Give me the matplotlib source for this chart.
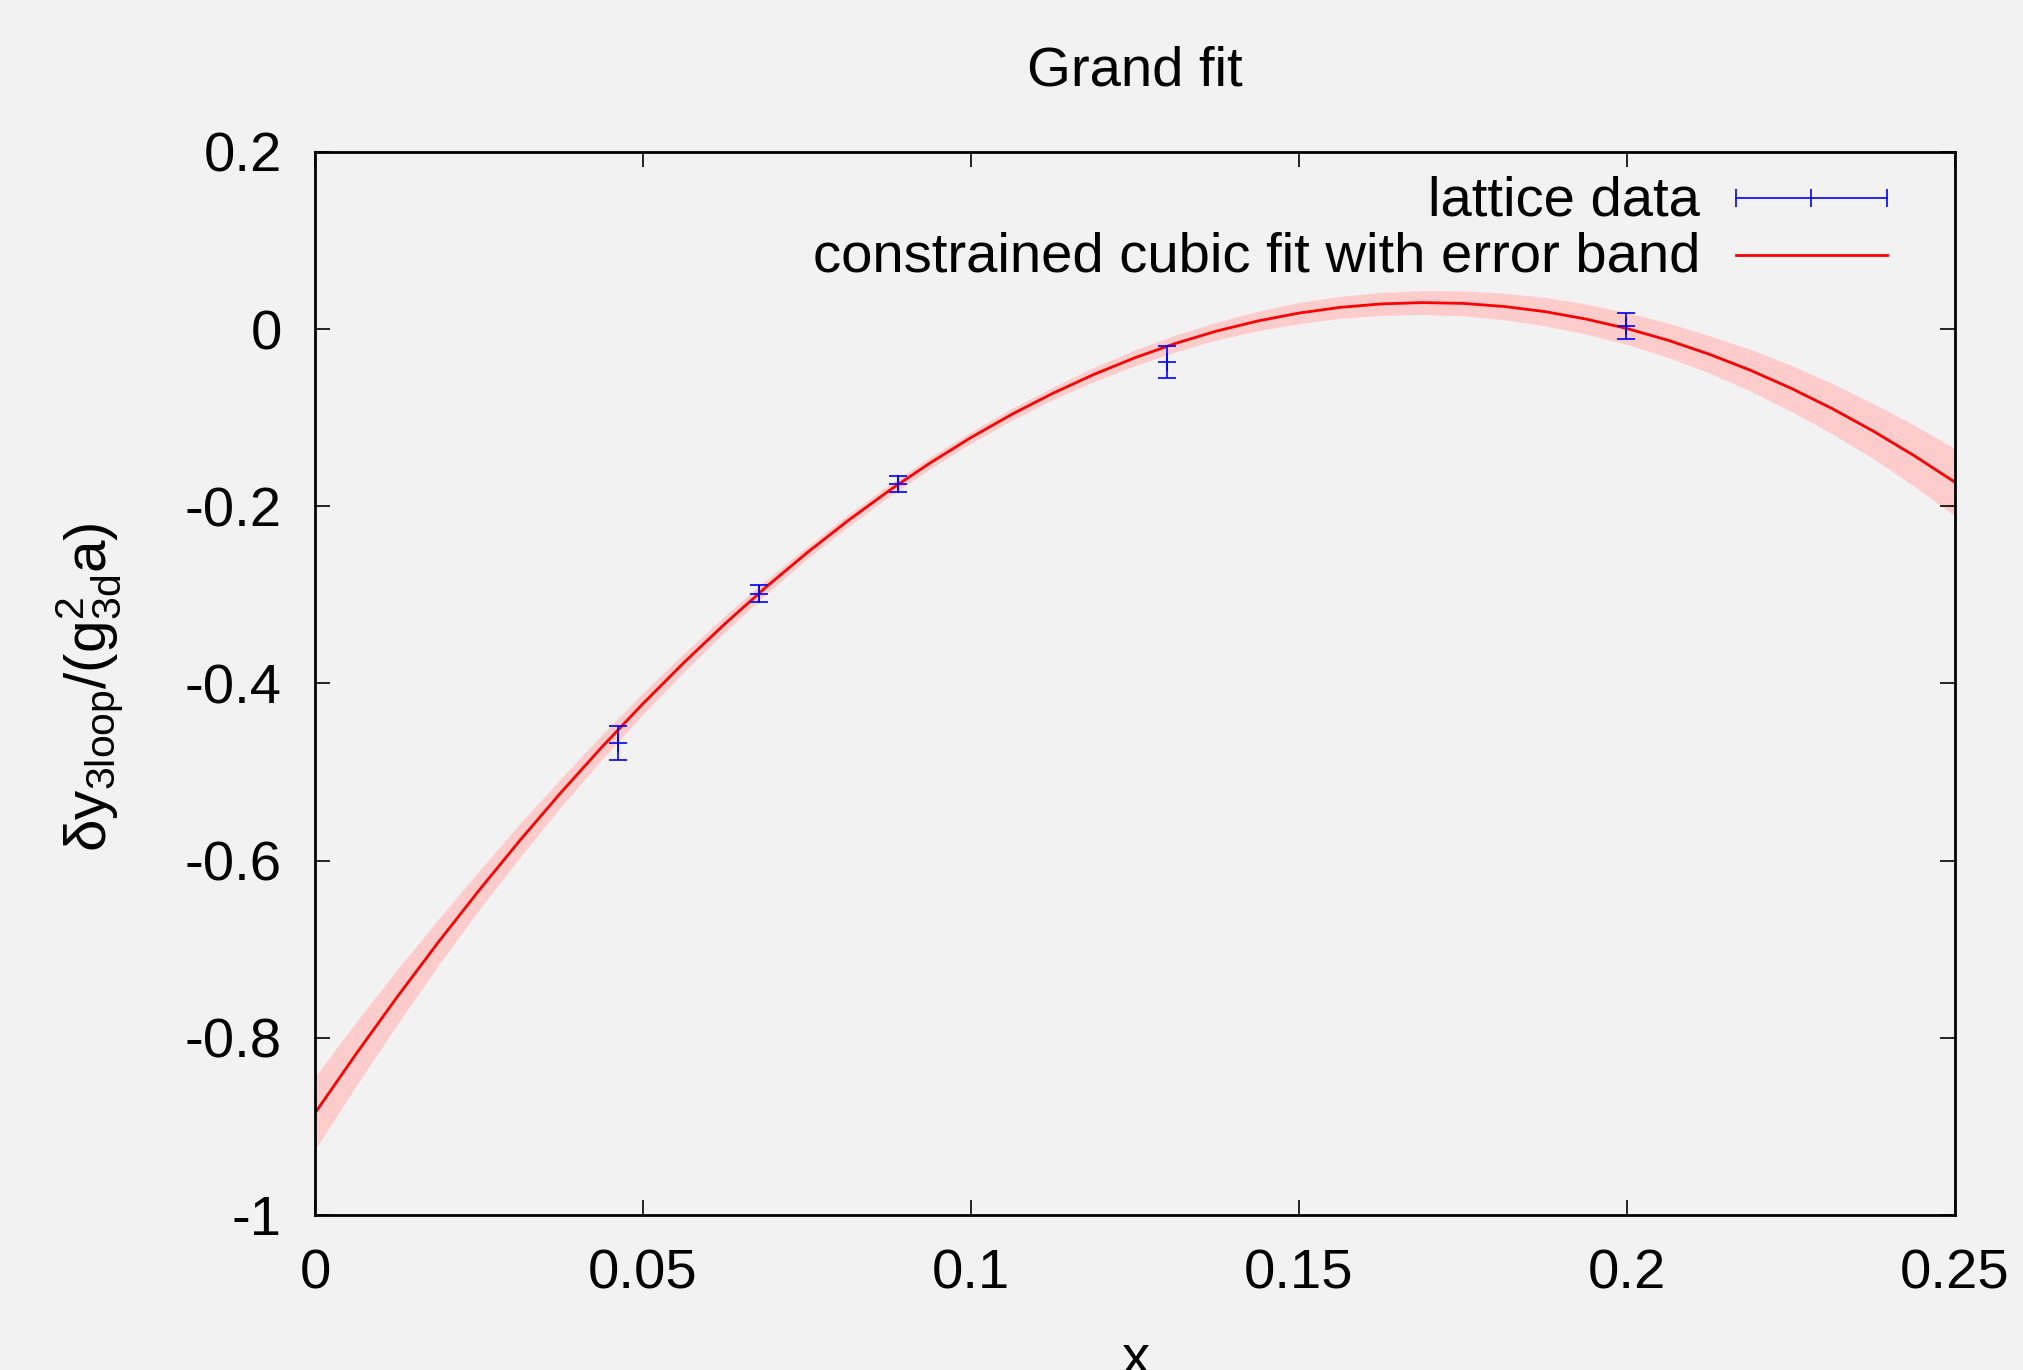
import numpy as np
import matplotlib.pyplot as plt

plt.rcParams['font.family'] = ['Liberation Sans', 'DejaVu Sans']
plt.rcParams['axes.unicode_minus'] = False
plt.rcParams['mathtext.fontset'] = 'custom'
plt.rcParams['mathtext.rm'] = 'Liberation Sans'

# lattice data points
x_data = [0.0462, 0.0677, 0.0889, 0.1299, 0.1998]
y_data = [-0.4675, -0.2987, -0.1748, -0.0375, 0.0036]
y_err = [0.019, 0.0098, 0.0087, 0.018, 0.015]

# fit curve and its error band (half-width)
x_fit = [0.0, 0.00625, 0.0125, 0.01875, 0.025, 0.03125, 0.0375, 0.04375,
         0.05, 0.05625, 0.0625, 0.06875, 0.075, 0.08125, 0.0875, 0.09375,
         0.1, 0.10625, 0.1125, 0.11875, 0.125, 0.13125, 0.1375, 0.14375,
         0.15, 0.15625, 0.1625, 0.16875, 0.175, 0.18125, 0.1875, 0.19375,
         0.2, 0.20625, 0.2125, 0.21875, 0.225, 0.23125, 0.2375, 0.24375, 0.25]
y_fit = [-0.885, -0.8183, -0.7541, -0.6925, -0.6335, -0.5770, -0.5230, -0.4716,
         -0.4227, -0.3763, -0.3325, -0.2912, -0.2524, -0.2161, -0.1823, -0.1511,
         -0.1223, -0.0960, -0.0723, -0.0510, -0.0322, -0.0159, -0.0020, 0.0093,
         0.0182, 0.0246, 0.0285, 0.0300, 0.0291, 0.0256, 0.0198, 0.0114,
         0.0007, -0.0125, -0.0282, -0.0462, -0.0667, -0.0896, -0.1149, -0.1427, -0.1728]
band = [0.041, 0.036, 0.031, 0.026, 0.022, 0.019, 0.016, 0.014,
        0.012, 0.0105, 0.009, 0.008, 0.007, 0.0067, 0.0065, 0.0065,
        0.0065, 0.0067, 0.007, 0.008, 0.009, 0.0095, 0.010, 0.011,
        0.012, 0.0125, 0.013, 0.0135, 0.014, 0.015, 0.016, 0.017,
        0.018, 0.0195, 0.021, 0.0235, 0.026, 0.0285, 0.031, 0.0345, 0.038]

xticks = [0, 0.05, 0.1, 0.15, 0.2, 0.25]
xtick_labels = ['0', '0.05', '0.1', '0.15', '0.2', '0.25']
yticks = [-1, -0.8, -0.6, -0.4, -0.2, 0, 0.2]
ytick_labels = ['-1', '-0.8', '-0.6', '-0.4', '-0.2', '0', '0.2']

bg = '#f2f2f2'
fs = 40.5

fig = plt.figure(figsize=(20.24, 13.70), dpi=100)
fig.patch.set_facecolor(bg)
ax = fig.add_axes([315 / 2024, 1 - 1215 / 1370, 1640 / 2024, 1063 / 1370])
ax.set_facecolor(bg)

xf = np.array(x_fit)
yf = np.array(y_fit)
bd = np.array(band)
ax.fill_between(xf, yf - bd, yf + bd, color='#ffcccc', lw=0, zorder=1)
ax.plot(xf, yf, color='red', lw=2, zorder=2)
ax.errorbar(x_data, y_data, yerr=y_err, fmt='+', color='blue', ms=13, mew=1.2,
            elinewidth=1.2, capsize=6.5, capthick=1.2, zorder=3)

ax.set_xlim(0, 0.25)
ax.set_ylim(-1, 0.2)
ax.set_xticks(xticks)
ax.set_xticklabels(xtick_labels)
ax.set_yticks(yticks)
ax.set_yticklabels(ytick_labels)
ax.tick_params(direction='in', length=11, width=1.2, top=True, right=True,
               labelsize=fs)
ax.tick_params(axis='x', pad=24)
ax.tick_params(axis='y', pad=24)
for s in ax.spines.values():
    s.set_linewidth(2)

fig.text(1135 / 2024, 1 - 72 / 1370, 'Grand fit', fontsize=fs, ha='center', va='center')
fig.text(1135 / 2024, 1 - 1360 / 1370, 'x', fontsize=fs, ha='center', va='center')
fig.text(90 / 2024, 1 - 687 / 1370,
         r'$\mathregular{\delta y_{3loop}/(g^2_{3d}a)}$',
         fontsize=42, rotation=90, ha='center', va='center')

# legend drawn by hand, gnuplot style
tx = (1700 - 315) / 1640
x0 = (1736 - 315) / 1640
x1 = (1887 - 315) / 1640
xm = (x0 + x1) / 2
r1 = (1215 - 198) / 1063
r2 = (1215 - 255) / 1063
t1 = (1215 - 201) / 1063
t2 = (1215 - 258) / 1063
ax.text(tx, t1, 'lattice data', fontsize=fs, ha='right', va='center', transform=ax.transAxes)
ax.text(tx, t2, 'constrained cubic fit with error band', fontsize=fs, ha='right',
        va='center', transform=ax.transAxes)
ax.plot([x0, x1], [r1, r1], color='blue', lw=1.2, transform=ax.transAxes, clip_on=False)
ax.plot([x0, xm, x1], [r1, r1, r1], ls='none', marker='|', ms=13, mew=1.2, color='blue',
        transform=ax.transAxes, clip_on=False)
ax.plot([x0, x1], [r2, r2], color='red', lw=2, transform=ax.transAxes, clip_on=False)

fig.savefig('out.png', dpi=100, facecolor=bg)
